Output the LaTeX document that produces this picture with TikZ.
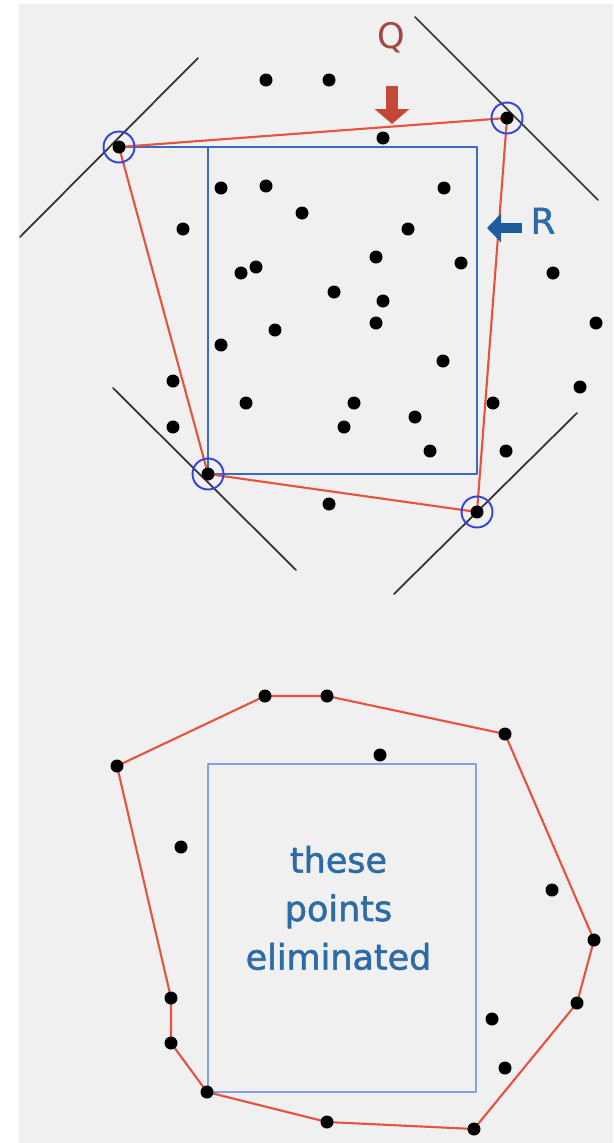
\documentclass[tikz,border=0pt]{standalone}
\usepackage{fontspec}
\usepackage{xcolor}
\usepackage{tikz}
\usetikzlibrary{arrows.meta}
\newfontfamily\labelfont{DejaVu Sans}
\newfontfamily\notefont[FakeBold=1.6]{DejaVu Sans}
\definecolor{bggray}{HTML}{F0F0F0}
\definecolor{hullred}{HTML}{E5533D}
\definecolor{rectblue}{HTML}{3A6BC4}
\definecolor{paleblue}{HTML}{8C9BEA}
\definecolor{ringblue}{HTML}{3344DD}
\definecolor{qred}{HTML}{C4483A}
\definecolor{qtext}{HTML}{A04842}
\definecolor{rblue}{HTML}{1F5C9C}
\definecolor{rtext}{HTML}{2D6BA6}
\definecolor{linegray}{HTML}{333333}

\begin{document}
\begin{tikzpicture}[x=0.02cm, y=-0.02cm, line join=round, line cap=round]
  \useasboundingbox (0,0) rectangle (613,1143);
  \fill[bggray] (18.5,4) rectangle (613,1143);
  % four extreme points
  \coordinate (nw) at (119,147);
  \coordinate (ne) at (507,118);
  \coordinate (sw) at (208,474);
  \coordinate (se) at (477,512);
  % ends of the support lines
  \coordinate (s1a) at (20,237);  \coordinate (s1b) at (198,58);
  \coordinate (s2a) at (415,17);  \coordinate (s2b) at (598,200);
  \coordinate (s3a) at (113,388); \coordinate (s3b) at (296,570);
  \coordinate (s4a) at (577,413); \coordinate (s4b) at (394,594);
  % rectangle R
  \draw[rectblue, line width=1.4pt] (nw) -- (se |- nw) -- (se |- sw) -- (sw) -- (sw |- nw);
  % quadrilateral Q
  \draw[hullred, line width=1.2pt] (nw) -- (ne) -- (se) -- (sw) -- cycle;
  \foreach \a/\b in {s1a/s1b,s2a/s2b,s3a/s3b,s4a/s4b}
    \draw[linegray, line width=1pt] (\a) -- (\b);
  % points
  \foreach \x/\y in {266/80,329/80,383/138,221/188,266/186,444/188,302/213,
      183/229,408/229,376/257,461/263,241/273,256/267,553/273,334/292,
      383/301,376/323,596/323,275/330,221/345,443/361,173/381,580/387,
      246/403,354/403,493/403,415/417,173/427,344/427,430/451,506/451,329/504}
    \fill (\x,\y) circle (0.13cm);
  \foreach \p in {nw,ne,sw,se} {
    \fill (\p) circle (0.13cm);
    \draw[ringblue, line width=1.1pt] (\p) circle (0.31cm);
  }
  % labels Q and R with their arrows
  \coordinate (qtail) at (392,86);
  \coordinate (qtip) at (392,124);
  \draw[qred, line width=0.24cm, line cap=butt, -{Triangle[width=0.68cm,length=0.3cm]}] (qtail) -- (qtip);
  \node[qtext, anchor=base, font=\labelfont\fontsize{20}{24}\selectfont] (qlabel) at (391,48.5) {Q};
  \coordinate (rtail) at (522,228);
  \coordinate (rtip) at (487,228);
  \draw[rblue, line width=0.2cm, line cap=butt, -{Triangle[width=0.56cm,length=0.28cm]}] (rtail) -- (rtip);
  \node[rtext, anchor=base, font=\notefont\fontsize{20}{24}\selectfont] (rlabel) at (543,233.5) {R};

  % hull after elimination
  \foreach \n/\x/\y in {1/117/766,2/265/696,3/327/696,4/505/734,5/594/940,
      6/577/1003,7/474/1129,8/327/1122,9/207/1092,10/171/1043,11/171/998}
    \coordinate (h\n) at (\x,\y);
  \draw[paleblue, line width=1.3pt] (208,764) rectangle (476,1092);
  \draw[hullred, line width=1.2pt] (h1) \foreach \n in {2,...,11} { -- (h\n) } -- cycle;
  \foreach \n in {1,...,11} \fill (h\n) circle (0.13cm);
  \foreach \x/\y in {380/755,181/847,552/890,492/1019,505/1068}
    \fill (\x,\y) circle (0.13cm);
  \node[rtext, align=center, font=\notefont\fontsize{19.9}{27.6}\selectfont] (gone) at (338.5,908) {these\\points\\eliminated};
\end{tikzpicture}
\end{document}
